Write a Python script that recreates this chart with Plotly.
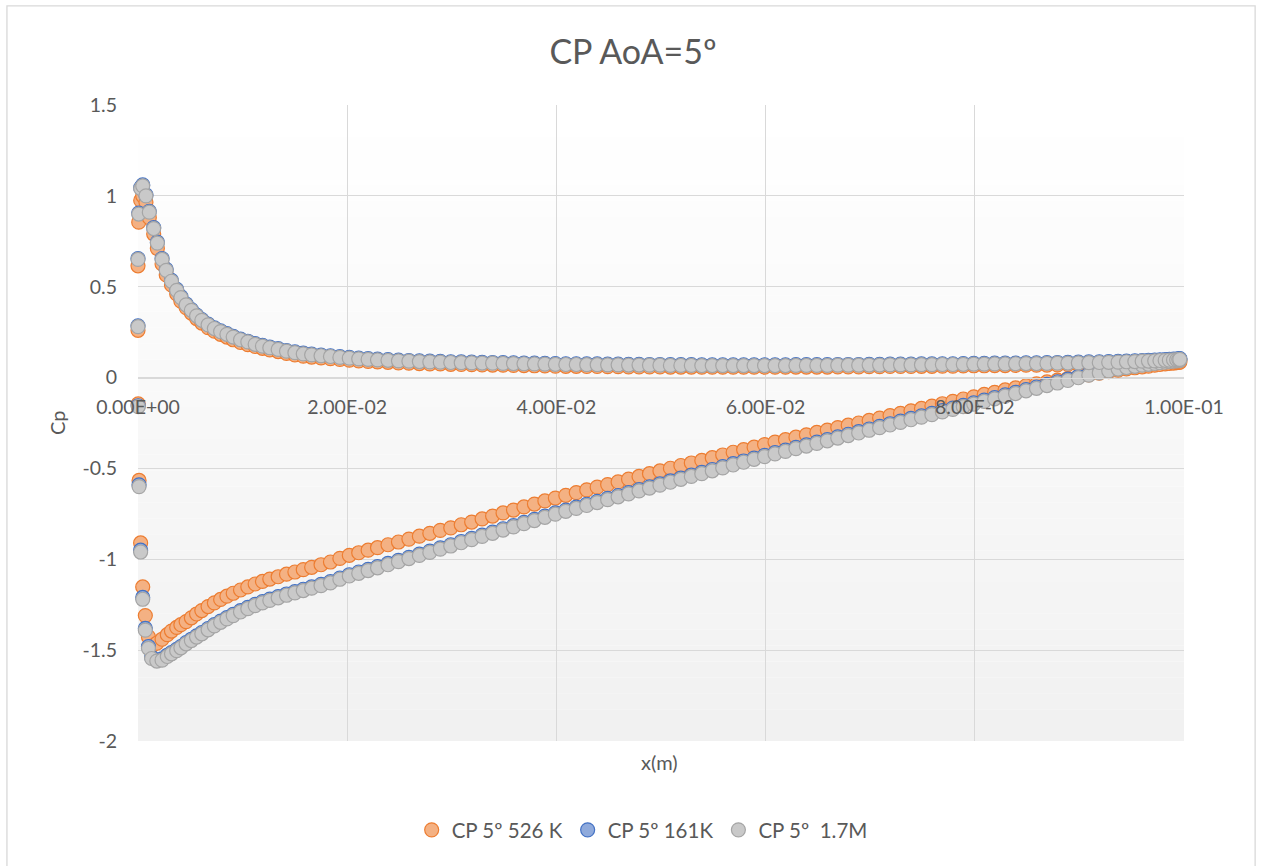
import plotly.graph_objects as go

# ---------------- data ----------------
# x positions (m) — leading-edge points of each surface, then shared chordwise stations
x_le_pressure = [0.0, 0.00007, 0.00026, 0.00045, 0.00076, 0.00108, 0.0015, 0.00185, 0.0023, 0.0027,
                 0.0032, 0.0037, 0.0041, 0.0046]
x_le_suction = [0.0, 0.00002, 0.0001, 0.00025, 0.00045, 0.0007, 0.001, 0.0013, 0.0018, 0.0023,
                0.0028, 0.0032, 0.0037, 0.0041, 0.0046]
x_body = [
    0.0051, 0.0056, 0.0061, 0.0067, 0.0073, 0.0079, 0.0085, 0.0091, 0.0098, 0.0105,
    0.0112, 0.0119, 0.0126, 0.0134, 0.0142, 0.015, 0.0158, 0.0166, 0.0175, 0.0184,
    0.0193, 0.0202, 0.0211, 0.022, 0.0229, 0.0239, 0.0249, 0.0259, 0.0269, 0.0279,
    0.0289, 0.0299, 0.0309, 0.0319, 0.0329, 0.0339, 0.0349, 0.0359, 0.0369, 0.0379,
    0.0389, 0.0399, 0.0409, 0.0419, 0.0429, 0.0439, 0.0449, 0.0459, 0.0469, 0.0479,
    0.0489, 0.0499, 0.0509, 0.0519, 0.0529, 0.0539, 0.0549, 0.0559, 0.0569, 0.0579,
    0.0589, 0.0599, 0.0609, 0.0619, 0.0629, 0.0639, 0.0649, 0.0659, 0.0669, 0.0679,
    0.0689, 0.0699, 0.0709, 0.0719, 0.0729, 0.0739, 0.0749, 0.0759, 0.0769, 0.0779,
    0.0789, 0.0799, 0.0809, 0.0819, 0.0829, 0.0839, 0.0849, 0.0859, 0.0869, 0.0879,
    0.0889, 0.0899, 0.0909, 0.0919,
    0.0928, 0.0937, 0.0945, 0.0953, 0.096, 0.0966, 0.0972, 0.0977, 0.0982, 0.0986,
    0.099, 0.0993, 0.0995, 0.0996,
]

# ---- CP 5º 526 K ----
cp_526_pressure = [
    0.615, 0.855, 0.975, 1.0, 0.965, 0.88, 0.79, 0.71, 0.625, 0.565, 0.51, 0.46, 0.42, 0.385,
    0.355, 0.325, 0.3, 0.275, 0.255, 0.238, 0.223, 0.208, 0.193, 0.181,
    0.171, 0.161, 0.152, 0.143, 0.133, 0.125, 0.118, 0.113, 0.108, 0.104,
    0.1, 0.096, 0.092, 0.089, 0.086, 0.084, 0.081, 0.079, 0.077, 0.075,
    0.075, 0.073, 0.072, 0.071, 0.07, 0.069, 0.068, 0.067, 0.066, 0.065,
    0.064, 0.063, 0.062, 0.062, 0.061, 0.061, 0.06, 0.06, 0.059, 0.059,
    0.059, 0.059, 0.058, 0.058, 0.058, 0.057, 0.057, 0.057, 0.057, 0.057,
    0.057, 0.057, 0.057, 0.057, 0.058, 0.058, 0.058, 0.058, 0.059, 0.059,
    0.059, 0.06, 0.06, 0.061, 0.061, 0.061, 0.062, 0.062, 0.063, 0.063,
    0.064, 0.065, 0.065, 0.066, 0.066, 0.067, 0.068, 0.068, 0.069, 0.07,
    0.072, 0.073, 0.074, 0.075,
    0.077, 0.078, 0.08, 0.081, 0.083, 0.084, 0.085, 0.087, 0.088, 0.089,
    0.09, 0.091, 0.092, 0.093,
]
cp_526_suction = [
    0.26, -0.145, -0.566, -0.91, -1.152, -1.31, -1.427, -1.478, -1.462, -1.44,
    -1.415, -1.395, -1.375, -1.36, -1.343,
    -1.322, -1.301, -1.282, -1.26, -1.24, -1.221, -1.203, -1.187, -1.169, -1.152,
    -1.136, -1.122, -1.109, -1.096, -1.082, -1.07, -1.057, -1.044, -1.03, -1.015,
    -0.995, -0.978, -0.964, -0.95, -0.936, -0.92, -0.905, -0.889, -0.873, -0.857,
    -0.841, -0.827, -0.81, -0.795, -0.778, -0.762, -0.745, -0.729, -0.712, -0.696,
    -0.679, -0.663, -0.648, -0.633, -0.618, -0.603, -0.589, -0.574, -0.559, -0.544,
    -0.529, -0.514, -0.499, -0.484, -0.47, -0.456, -0.441, -0.426, -0.411, -0.397,
    -0.383, -0.369, -0.355, -0.342, -0.328, -0.315, -0.302, -0.289, -0.275, -0.262,
    -0.25, -0.236, -0.223, -0.209, -0.197, -0.183, -0.17, -0.157, -0.144, -0.131,
    -0.118, -0.106, -0.093, -0.081, -0.068, -0.057, -0.045, -0.035, -0.024, -0.014,
    -0.005, 0.005, 0.015, 0.024,
    0.033, 0.041, 0.048, 0.054, 0.059, 0.063, 0.068, 0.072, 0.075, 0.078,
    0.08, 0.082, 0.084, 0.085,
]

# ---- CP 5º 161K ----
cp_161_pressure = [
    0.655, 0.905, 1.045, 1.06, 1.005, 0.915, 0.825, 0.745, 0.655, 0.595, 0.535, 0.485, 0.445, 0.405,
    0.374, 0.344, 0.319, 0.294, 0.274, 0.257, 0.242, 0.227, 0.212, 0.2,
    0.187, 0.177, 0.168, 0.159, 0.149, 0.141, 0.134, 0.129, 0.124, 0.12,
    0.115, 0.111, 0.107, 0.104, 0.101, 0.099, 0.096, 0.094, 0.092, 0.09,
    0.089, 0.087, 0.086, 0.085, 0.084, 0.083, 0.082, 0.081, 0.08, 0.079,
    0.078, 0.077, 0.076, 0.076, 0.075, 0.075, 0.074, 0.074, 0.073, 0.073,
    0.072, 0.072, 0.071, 0.071, 0.071, 0.07, 0.07, 0.07, 0.07, 0.07,
    0.07, 0.07, 0.07, 0.07, 0.071, 0.071, 0.071, 0.071, 0.072, 0.072,
    0.072, 0.073, 0.073, 0.074, 0.074, 0.074, 0.075, 0.075, 0.076, 0.076,
    0.077, 0.078, 0.078, 0.079, 0.079, 0.08, 0.081, 0.081, 0.082, 0.083,
    0.084, 0.085, 0.086, 0.087,
    0.088, 0.089, 0.091, 0.092, 0.094, 0.095, 0.096, 0.098, 0.099, 0.1,
    0.101, 0.102, 0.103, 0.104,
]
cp_161_suction = [
    0.285, -0.155, -0.59, -0.95, -1.21, -1.38, -1.48, -1.538, -1.553, -1.548,
    -1.528, -1.513, -1.496, -1.48, -1.458,
    -1.44, -1.421, -1.403, -1.381, -1.36, -1.34, -1.321, -1.303, -1.283, -1.265,
    -1.248, -1.233, -1.219, -1.205, -1.191, -1.178, -1.165, -1.152, -1.138, -1.123,
    -1.103, -1.085, -1.07, -1.055, -1.04, -1.023, -1.006, -0.989, -0.972, -0.955,
    -0.937, -0.92, -0.902, -0.885, -0.867, -0.85, -0.832, -0.815, -0.797, -0.78,
    -0.762, -0.745, -0.729, -0.713, -0.697, -0.681, -0.665, -0.649, -0.633, -0.617,
    -0.601, -0.585, -0.569, -0.553, -0.537, -0.522, -0.506, -0.49, -0.474, -0.459,
    -0.443, -0.428, -0.413, -0.399, -0.384, -0.37, -0.355, -0.341, -0.326, -0.312,
    -0.298, -0.283, -0.269, -0.254, -0.24, -0.225, -0.211, -0.197, -0.182, -0.168,
    -0.153, -0.139, -0.124, -0.11, -0.095, -0.081, -0.066, -0.052, -0.037, -0.023,
    -0.009, 0.006, 0.02, 0.033,
    0.044, 0.054, 0.062, 0.069, 0.075, 0.08, 0.085, 0.089, 0.092, 0.095,
    0.097, 0.099, 0.1, 0.101,
]

# ---- CP 5º  1.7M ----
cp_17m_pressure = [
    0.65, 0.90, 1.04, 1.055, 1.0, 0.91, 0.82, 0.74, 0.65, 0.59, 0.53, 0.48, 0.44, 0.40,
    0.37, 0.34, 0.315, 0.29, 0.27, 0.253, 0.238, 0.223, 0.208, 0.196,
    0.183, 0.173, 0.164, 0.155, 0.145, 0.137, 0.13, 0.125, 0.12, 0.116,
    0.111, 0.107, 0.103, 0.1, 0.097, 0.095, 0.092, 0.09, 0.088, 0.086,
    0.085, 0.083, 0.082, 0.081, 0.08, 0.079, 0.078, 0.077, 0.076, 0.075,
    0.074, 0.073, 0.072, 0.072, 0.071, 0.071, 0.07, 0.07, 0.069, 0.069,
    0.068, 0.068, 0.067, 0.067, 0.067, 0.066, 0.066, 0.066, 0.066, 0.066,
    0.066, 0.066, 0.066, 0.066, 0.067, 0.067, 0.067, 0.067, 0.068, 0.068,
    0.068, 0.069, 0.069, 0.07, 0.07, 0.07, 0.071, 0.071, 0.072, 0.072,
    0.073, 0.074, 0.074, 0.075, 0.075, 0.076, 0.077, 0.077, 0.078, 0.079,
    0.08, 0.081, 0.082, 0.083,
    0.084, 0.085, 0.087, 0.088, 0.09, 0.091, 0.092, 0.094, 0.095, 0.096,
    0.097, 0.098, 0.099, 0.1,
]
cp_17m_suction = [
    0.28, -0.16, -0.6, -0.96, -1.22, -1.39, -1.49, -1.546, -1.56, -1.555,
    -1.535, -1.52, -1.503, -1.487, -1.465,
    -1.447, -1.428, -1.41, -1.388, -1.367, -1.347, -1.328, -1.31, -1.29, -1.272,
    -1.255, -1.24, -1.226, -1.212, -1.198, -1.185, -1.172, -1.159, -1.145, -1.13,
    -1.11, -1.092, -1.077, -1.062, -1.047, -1.03, -1.013, -0.996, -0.979, -0.962,
    -0.944, -0.927, -0.909, -0.892, -0.874, -0.857, -0.839, -0.822, -0.804, -0.787,
    -0.769, -0.752, -0.736, -0.72, -0.704, -0.688, -0.672, -0.656, -0.64, -0.624,
    -0.608, -0.592, -0.576, -0.56, -0.544, -0.529, -0.513, -0.497, -0.481, -0.466,
    -0.45, -0.435, -0.42, -0.406, -0.391, -0.377, -0.362, -0.348, -0.333, -0.319,
    -0.305, -0.29, -0.276, -0.261, -0.247, -0.232, -0.218, -0.204, -0.189, -0.175,
    -0.16, -0.146, -0.131, -0.117, -0.102, -0.088, -0.073, -0.059, -0.044, -0.03,
    -0.016, -0.001, 0.013, 0.026,
    0.037, 0.047, 0.055, 0.062, 0.068, 0.073, 0.078, 0.082, 0.085, 0.088,
    0.09, 0.092, 0.094, 0.095,
]

series_names = ["CP 5º 526 K", "CP 5º 161K", "CP 5º  1.7M"]
x_tick_vals = [0.0, 0.02, 0.04, 0.06, 0.08, 0.1]
x_tick_text = ["0.00E+00", "2.00E-02", "4.00E-02", "6.00E-02", "8.00E-02", "1.00E-01"]
y_tick_vals = [-2, -1.5, -1, -0.5, 0, 0.5, 1, 1.5]
y_tick_text = ["-2", "-1.5", "-1", "-0.5", "0", "0.5", "1", "1.5"]

n_p = len(x_le_pressure) + len(x_body)
n_s = len(x_le_suction) + len(x_body)
for arr in (cp_526_pressure, cp_161_pressure, cp_17m_pressure):
    assert len(arr) == n_p, (len(arr), n_p)
for arr in (cp_526_suction, cp_161_suction, cp_17m_suction):
    assert len(arr) == n_s, (len(arr), n_s)

# ---------------- figure ----------------
FONT = "Lato, 'Open Sans', sans-serif"
TXT = "#595959"
GRID = "#d9d9d9"
TICK_SIZE = 19.5
LABEL_SIZE = 20

styles = [
    dict(fill="#f4b183", line="#ed7d31"),
    dict(fill="#8faadc", line="#4472c4"),
    dict(fill="#c9c9c9", line="#a5a5a5"),
]
series_data = [
    (cp_526_suction, cp_526_pressure),
    (cp_161_suction, cp_161_pressure),
    (cp_17m_suction, cp_17m_pressure),
]

x_all = x_le_suction + x_body + x_le_pressure + x_body

fig = go.Figure()
for name, st, (suc, pre) in zip(series_names, styles, series_data):
    fig.add_trace(go.Scatter(
        x=x_all, y=suc + pre, mode="markers", name=name, cliponaxis=False,
        marker=dict(size=14, color=st["fill"], line=dict(color=st["line"], width=1.2)),
    ))

# plot-area gradient background (white at top to light grey at bottom)
NB = 40
shapes = []
for i in range(NB):
    t = i / (NB - 1)
    c = int(round(241 + (255 - 241) * t))
    shapes.append(dict(type="rect", xref="x domain", yref="y domain",
                       x0=0, x1=1, y0=i / NB, y1=(i + 1) / NB,
                       fillcolor=f"rgb({c},{c},{c})", line=dict(width=0), layer="below"))
# outer chart border
shapes.append(dict(type="rect", xref="paper", yref="paper",
                   x0=-0.1253, x1=1.0680, y0=-0.30, y1=1.1557,
                   line=dict(color=GRID, width=1.3), fillcolor="rgba(0,0,0,0)", layer="below"))

y0_frac = (0 - (-2)) / (1.5 - (-2))

fig.update_layout(
    width=1261, height=866,
    margin=dict(l=138, r=77, t=105, b=125),
    paper_bgcolor="white", plot_bgcolor="white",
    font=dict(family=FONT, color=TXT, size=TICK_SIZE),
    title=dict(text="CP AoA=5º", x=0.502, xref="container", xanchor="center",
               y=1 - 52 / 866, yref="container", yanchor="middle",
               font=dict(size=34, color=TXT, family=FONT)),
    showlegend=True,
    legend=dict(orientation="h", x=0.482, xanchor="center", y=-0.14, yanchor="middle",
                font=dict(size=20.5, color=TXT, family=FONT), bgcolor="rgba(0,0,0,0)"),
    shapes=shapes,
    annotations=[
        dict(text="x(m)", xref="paper", yref="paper", x=0.499, y=-0.033,
             showarrow=False, font=dict(size=LABEL_SIZE, color=TXT, family=FONT),
             xanchor="center", yanchor="middle"),
        dict(text="Cp", xref="paper", yref="paper", x=-0.0774, y=0.5, textangle=-90,
             showarrow=False, font=dict(size=LABEL_SIZE, color=TXT, family=FONT),
             xanchor="center", yanchor="middle"),
    ],
)
fig.update_xaxes(range=[0, 0.1], tickvals=x_tick_vals, ticktext=x_tick_text,
                 showgrid=True, gridcolor=GRID, gridwidth=1, zeroline=False,
                 showline=True, linecolor=GRID, linewidth=1,
                 anchor="free", position=y0_frac, ticks="", ticklabelstandoff=12,
                 tickfont=dict(size=TICK_SIZE, color=TXT, family=FONT))
fig.update_yaxes(range=[-2, 1.5], tickvals=y_tick_vals, ticktext=y_tick_text,
                 showgrid=True, gridcolor=GRID, gridwidth=1, zeroline=False,
                 showline=False, ticks="", ticklabelstandoff=20,
                 tickfont=dict(size=TICK_SIZE, color=TXT, family=FONT))

fig.write_html("out.html")
